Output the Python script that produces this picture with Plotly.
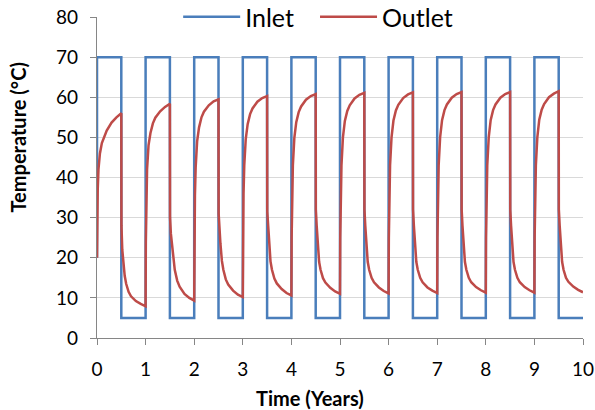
import plotly.graph_objects as go

# ---- data -------------------------------------------------------------
years = [0, 1, 2, 3, 4, 5, 6, 7, 8, 9]          # start of each annual cycle
inlet_hot = 70.0                                  # injection temperature, first half of year
inlet_cold = 5.0                                  # injection temperature, second half of year
inlet_start = 20.0

# sample offsets (years) within each half-year
heat_dt = [0, 0.005, 0.015, 0.03, 0.06, 0.1, 0.15, 0.2, 0.3, 0.4, 0.5]
cool_dt = [0, 0.003, 0.02, 0.04, 0.07, 0.1, 0.15, 0.2, 0.3, 0.4, 0.5]

# outlet temperature during the hot half of each year (degC)
outlet_heat = [
    [20.0, 30.0, 37.0, 42.0, 46.0, 48.6, 50.4, 51.7, 53.7, 55.0, 56.0],
    [7.9, 24.0, 35.0, 42.0, 48.0, 51.1, 53.5, 54.9, 56.5, 57.6, 58.4],
    [9.3, 25.0, 35.5, 42.5, 49.0, 52.5, 55.0, 56.4, 58.0, 59.0, 59.5],
    [10.2, 25.0, 36.0, 43.0, 49.5, 53.3, 55.8, 57.2, 58.9, 59.8, 60.3],
    [10.6, 25.0, 36.0, 43.0, 49.8, 53.8, 56.3, 57.7, 59.4, 60.3, 60.8],
    [11.0, 25.0, 36.0, 43.0, 50.0, 54.1, 56.6, 58.0, 59.7, 60.6, 61.1],
    [11.1, 25.0, 36.0, 43.0, 50.0, 54.2, 56.7, 58.1, 59.8, 60.7, 61.2],
    [11.2, 25.0, 36.0, 43.0, 50.0, 54.3, 56.8, 58.2, 59.9, 60.8, 61.3],
    [11.3, 25.0, 36.0, 43.0, 50.0, 54.3, 56.8, 58.2, 59.9, 60.8, 61.3],
    [11.3, 25.0, 36.0, 43.0, 50.0, 54.4, 56.9, 58.3, 60.0, 60.9, 61.5],
]

# outlet temperature during the cold half of each year (degC)
outlet_cool = [
    [56.0, 28.0, 22.0, 18.5, 15.5, 13.5, 11.5, 10.4, 9.2, 8.5, 7.9],
    [58.4, 30.0, 26.0, 23.5, 19.5, 17.0, 14.3, 12.8, 11.0, 10.0, 9.3],
    [59.5, 31.0, 27.0, 23.5, 19.2, 17.0, 14.6, 13.3, 11.8, 10.8, 10.2],
    [60.3, 31.5, 27.5, 23.5, 19.1, 17.0, 14.8, 13.6, 12.2, 11.2, 10.6],
    [60.8, 32.0, 28.0, 23.5, 19.0, 17.0, 14.9, 13.8, 12.5, 11.6, 11.0],
    [61.1, 32.0, 28.0, 23.5, 19.0, 17.0, 15.0, 13.9, 12.6, 11.7, 11.1],
    [61.2, 32.0, 28.0, 23.5, 19.0, 17.0, 15.0, 13.9, 12.6, 11.8, 11.2],
    [61.3, 32.0, 28.0, 23.5, 19.0, 17.0, 15.0, 13.9, 12.7, 11.9, 11.3],
    [61.3, 32.0, 28.0, 23.5, 19.0, 17.0, 15.0, 13.9, 12.7, 11.9, 11.3],
    [61.5, 32.0, 28.0, 23.5, 19.0, 17.0, 15.0, 14.0, 12.8, 12.0, 11.4],
]

x_ticks = [0, 1, 2, 3, 4, 5, 6, 7, 8, 9, 10]
y_ticks = [0, 10, 20, 30, 40, 50, 60, 70, 80]
x_title = "Time (Years)"
y_title = "Temperature (°C)"

# ---- build series -----------------------------------------------------
inlet_t, inlet_v = [0.0], [inlet_start]
for y0 in years:
    inlet_t += [y0, y0 + 0.5, y0 + 0.5, y0 + 1]
    inlet_v += [inlet_hot, inlet_hot, inlet_cold, inlet_cold]

outlet_t, outlet_v = [], []
for i, y0 in enumerate(years):
    outlet_t += [y0 + d for d in heat_dt]
    outlet_v += outlet_heat[i]
    outlet_t += [y0 + 0.5 + d for d in cool_dt]
    outlet_v += outlet_cool[i]

BLUE = "#4A7EBB"
RED = "#BE4B48"
AXIS = "#868686"
GRID = "#D9D9D9"
FONT = "Lato"

fig = go.Figure()
fig.add_trace(go.Scatter(x=inlet_t, y=inlet_v, mode="lines", name="Inlet",
                         line=dict(color=BLUE, width=2.5), legend="legend"))
fig.add_trace(go.Scatter(x=outlet_t, y=outlet_v, mode="lines", name="Outlet",
                         line=dict(color=RED, width=2.5), legend="legend2"))

axis_common = dict(
    zeroline=False, showline=True, linecolor=AXIS, linewidth=1.3, automargin=False,
    ticks="outside", ticklen=6, tickcolor=AXIS, tickwidth=1.3,
    tickfont=dict(size=19), ticklabelstandoff=8,
)

legend_common = dict(
    orientation="h", xanchor="left",
    yref="container", y=1 - 17 / 410, yanchor="middle",
    bgcolor="white", font=dict(size=25, family=FONT), itemwidth=57,
)

fig.update_layout(
    width=595, height=410,
    margin=dict(l=97, r=12, t=17, b=72, autoexpand=False),
    paper_bgcolor="white", plot_bgcolor="white",
    font=dict(family=FONT, color="black", size=19),
    showlegend=True,
    legend=dict(x=0.167, **legend_common),
    legend2=dict(x=0.4486, **legend_common),
    xaxis=dict(range=[0, 10], tickvals=x_ticks, showgrid=False, **axis_common),
    yaxis=dict(range=[0, 80], tickvals=y_ticks, showgrid=True, gridcolor=GRID,
               gridwidth=1.3, **axis_common),
    annotations=[
        dict(text=f"<b>{x_title}</b>", xref="paper", yref="paper",
             x=0.438, y=-0.186, xanchor="center", yanchor="middle",
             showarrow=False, font=dict(size=20)),
        dict(text=f"<b>{y_title}</b>", xref="paper", yref="paper",
             x=-0.162, y=0.6255, xanchor="center", yanchor="middle",
             textangle=-90, showarrow=False, font=dict(size=20)),
    ],
)

fig.write_html("out.html")
